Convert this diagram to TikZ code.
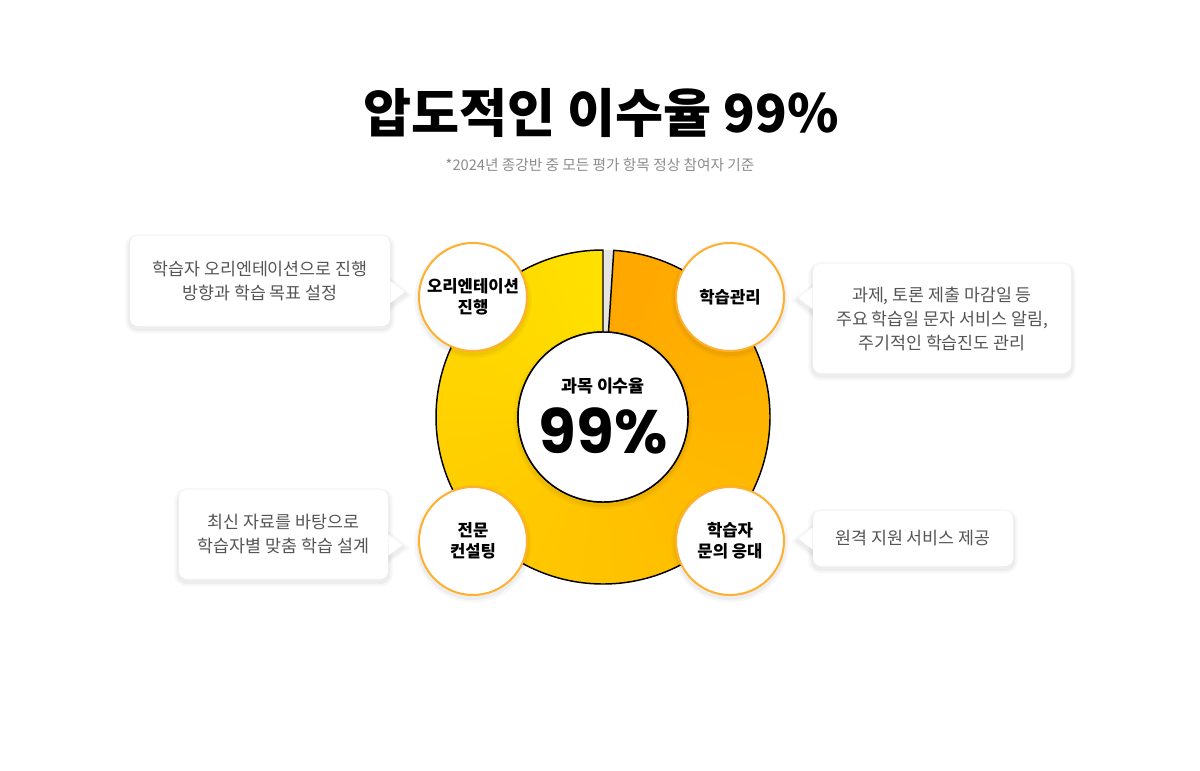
\documentclass[tikz,border=0pt]{standalone}
\usepackage{fontspec}
\setmainfont{Noto Sans CJK KR}
\newfontfamily\numfont{Poppins}
\usetikzlibrary{calc,backgrounds}

\definecolor{ringorange}{HTML}{FFA700}
\definecolor{ringyellow}{HTML}{FFE000}
\definecolor{ringgap}{HTML}{E4E4E0}
\definecolor{dotline}{HTML}{FFB030}
\definecolor{notegray}{HTML}{555555}
\definecolor{subgray}{HTML}{8C8C8C}

\tikzset{
  softshadow/.style={
    preaction={draw=black, draw opacity=0.03, line width=7pt, transform canvas={yshift=-2pt}},
    preaction={draw=black, draw opacity=0.04, line width=3.5pt, transform canvas={yshift=-2pt}}},
  note/.style={rectangle, rounded corners=6pt, fill=white, softshadow, text=notegray, align=center, inner sep=0pt, font=\fontsize{13}{18}\selectfont},
  topic/.style={circle, fill=white, draw=dotline, line width=1.5pt, minimum size=81pt, inner sep=0pt, softshadow, align=center, font=\bfseries\fontsize{12.5}{16}\selectfont},
  tip/.style={fill=white, line join=round},
}

\begin{document}
\begin{tikzpicture}[x=0.75pt,y=-0.75pt]
    \useasboundingbox (0,0) rectangle (1200,771);
    \begin{pgfonlayer}{background}
        \fill[white] (0,0) rectangle (1200,771);
    \end{pgfonlayer}

    \node[font=\bfseries\fontsize{39.2}{48}\selectfont] (title) at (601,113) {압도적인 이수율 99\%};
    \node[font=\fontsize{11}{13}\selectfont, text=subgray] (sub) at (600,165) {*2024년 종강반 중 모든 평가 항목 정상 참여자 기준};

    \begin{scope}[shift={(603,417)}]
        \fill[ringgap] (-90:167) arc[start angle=-90, end angle=-86.3, radius=167] -- (-86.3:85) arc[start angle=-86.3, end angle=-90, radius=85] -- cycle;
        \foreach \i in {0,...,119}{
            \pgfmathsetmacro\a{-86.3+\i*2.969167}
            \pgfmathsetmacro\b{min(\a+3.47,270)}
            \pgfmathsetmacro\p{\i*0.840336}
            \fill[ringyellow!\p!ringorange] (\a:167) arc[start angle=\a, end angle=\b, radius=167] -- (\b:85) arc[start angle=\b, end angle=\a, radius=85] -- cycle;
        }
        \draw[line width=1.1pt, line join=round] (-86.3:167) arc[start angle=-86.3, end angle=270, radius=167] -- (270:85) arc[start angle=270, end angle=-86.3, radius=85] -- cycle;
    \end{scope}

    \node[circle, fill=white, minimum size=127.5pt, softshadow] (core) at (603,417) {};
    \draw[line width=1.1pt] (core) circle[radius=85];
    \node[font=\bfseries\fontsize{13}{15}\selectfont] (label) at (603,386) {과목 이수율};
    \node[font=\numfont\bfseries\fontsize{46}{50}\selectfont] (rate) at (603,431) {99\%};

    \node[topic] (orient) at (473,297) {오리엔테이션\\진행};
    \node[topic] (manage) at (730,297) {학습관리};
    \node[topic] (consult) at (473,541) {전문\\컨설팅};
    \node[topic] (inquiry) at (730,541) {학습자\\문의 응대};

    \node[note, minimum width=195pt, minimum height=67.5pt] (n1) at (260,281) {학습자 오리엔테이션으로 진행\\방향과 학습 목표 설정};
    \node[note, minimum width=193.5pt, minimum height=81.75pt] (n2) at (942,318.5) {과제, 토론 제출 마감일 등\\주요 학습일 문자 서비스 알림,\\주기적인 학습진도 관리};
    \node[note, minimum width=156.75pt, minimum height=66.75pt] (n3) at (283.5,534.5) {최신 자료를 바탕으로\\학습자별 맞춤 학습 설계};
    \node[note, minimum width=150pt, minimum height=41.25pt] (n4) at (913,538.5) {원격 지원 서비스 제공};

    % pointers of the notes
    \begin{pgfonlayer}{background}
        \foreach \s/\tx/\ty/\ha/\hb in {n1.east/14/11/0/22, n2.west/-14/-20.5/-31.5/-9.5, n3.east/14/10.5/0/21, n4.west/-14/0/-11/11}
            \fill[tip, softshadow] ($(\s)+(0,\ha)$) -- ($(\s)+(\tx,\ty)$) -- ($(\s)+(0,\hb)$) -- cycle;
    \end{pgfonlayer}
    \foreach \s/\tx/\ty/\ha/\hb in {n1.east/14/11/0/22, n2.west/-14/-20.5/-31.5/-9.5, n3.east/14/10.5/0/21, n4.west/-14/0/-11/11}
        \fill[tip] ($(\s)+(0,\ha)$) -- ($(\s)+(\tx,\ty)$) -- ($(\s)+(0,\hb)$) -- cycle;
\end{tikzpicture}
\end{document}
